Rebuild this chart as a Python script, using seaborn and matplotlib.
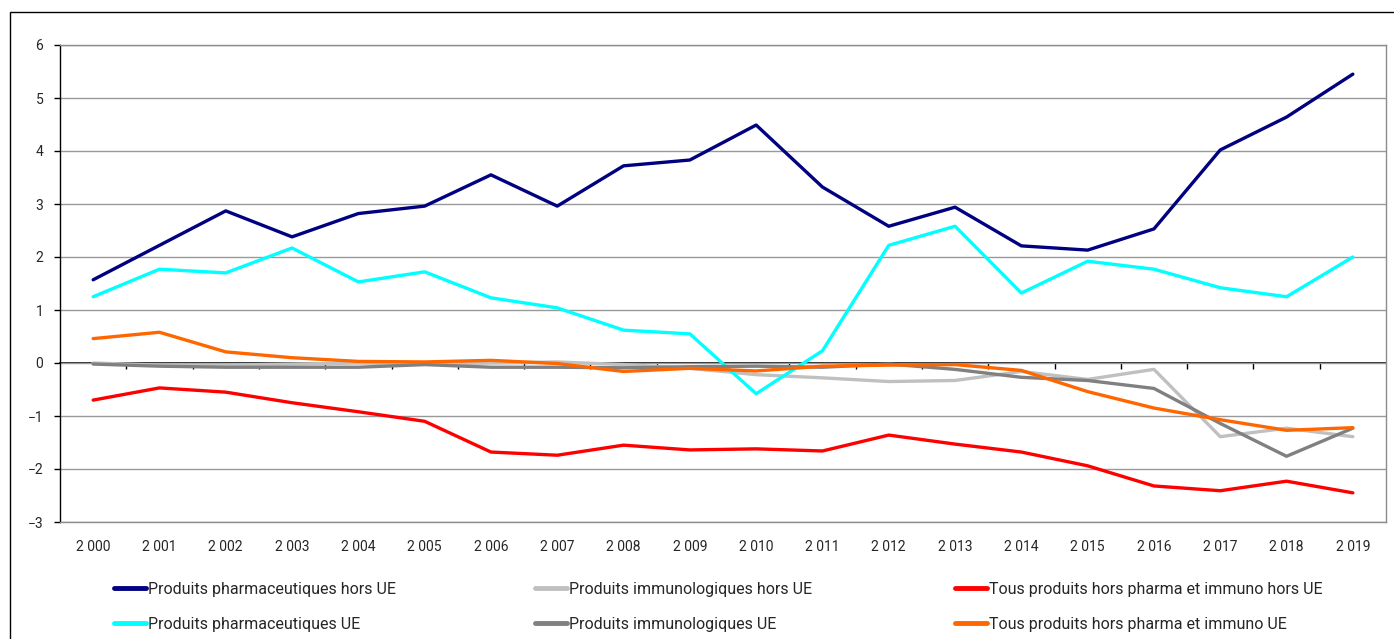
import seaborn as sns
import matplotlib.pyplot as plt
import matplotlib.patches as mpatches
import pandas as pd

years = [str(y) for y in range(2000, 2020)]
year_labels = ['2 000', '2 001', '2 002', '2 003', '2 004', '2 005', '2 006', '2 007', '2 008', '2 009',
               '2 010', '2 011', '2 012', '2 013', '2 014', '2 015', '2 016', '2 017', '2 018', '2 019']

pharma_hors_ue = [1.57, 2.22, 2.87, 2.38, 2.82, 2.96, 3.55, 2.96, 3.72, 3.83,
                  4.49, 3.32, 2.58, 2.94, 2.21, 2.13, 2.53, 4.02, 4.64, 5.45]
pharma_ue = [1.25, 1.77, 1.70, 2.17, 1.53, 1.72, 1.23, 1.04, 0.62, 0.55,
             -0.58, 0.23, 2.22, 2.58, 1.32, 1.92, 1.77, 1.42, 1.25, 2.00]
immuno_hors_ue = [0.00, -0.04, -0.04, -0.02, 0.00, -0.02, 0.00, 0.02, -0.03, -0.10,
                  -0.22, -0.28, -0.35, -0.33, -0.16, -0.31, -0.12, -1.39, -1.23, -1.39]
immuno_ue = [-0.02, -0.06, -0.08, -0.08, -0.08, -0.03, -0.08, -0.08, -0.09, -0.07,
             -0.06, -0.08, -0.02, -0.12, -0.27, -0.33, -0.48, -1.14, -1.76, -1.23]
tous_hors_ue = [-0.70, -0.47, -0.55, -0.75, -0.92, -1.10, -1.68, -1.74, -1.55, -1.64,
                -1.62, -1.66, -1.36, -1.53, -1.68, -1.94, -2.32, -2.41, -2.23, -2.45]
tous_ue = [0.46, 0.58, 0.21, 0.10, 0.03, 0.02, 0.05, -0.01, -0.16, -0.10,
           -0.15, -0.06, -0.04, -0.03, -0.14, -0.54, -0.85, -1.07, -1.27, -1.22]

series = {
    'Produits pharmaceutiques hors UE': pharma_hors_ue,
    'Produits immunologiques hors UE': immuno_hors_ue,
    'Tous produits hors pharma et immuno hors UE': tous_hors_ue,
    'Produits pharmaceutiques UE': pharma_ue,
    'Produits immunologiques UE': immuno_ue,
    'Tous produits hors pharma et immuno UE': tous_ue,
}
colors = ['#000080', '#C0C0C0', '#FF0000', '#00FFFF', '#808080', '#FF6600']
names = list(series.keys())

df = pd.concat([pd.DataFrame({'annee': years, 'valeur': v, 'serie': k}) for k, v in series.items()])
df['x'] = df['annee'].map({y: i for i, y in enumerate(years)})

sns.set_style('white')
plt.rcParams['font.family'] = ['Roboto', 'DejaVu Sans']

fig = plt.figure(figsize=(13.94, 6.39), dpi=100)
ax = fig.add_axes([60 / 1394, 1 - 522 / 639, 1326 / 1394, 477 / 639])

sns.lineplot(data=df, x='x', y='valeur', hue='serie', hue_order=names, palette=colors,
             linewidth=2.4, ax=ax, legend=False, sort=False)

ax.set_xlim(-0.5, len(years) - 0.5)
ax.set_ylim(-3, 6)
ax.set_yticks(range(-3, 7))
ax.set_xticks(range(len(years)))
ax.set_xticklabels(year_labels)
ax.set_xlabel('')
ax.set_ylabel('')
ax.tick_params(axis='x', length=0, pad=13, labelsize=10)
ax.tick_params(axis='y', left=True, length=4, width=1, color='black', pad=8, labelsize=10)
ax.yaxis.grid(True, color='#999999', linewidth=1)
ax.set_axisbelow(True)
for side in ['top', 'right', 'bottom']:
    ax.spines[side].set_color('#8c8c8c')
    ax.spines[side].set_linewidth(1)
ax.spines['left'].set_color('black')
ax.spines['left'].set_linewidth(1)

# axe horizontal a zero avec graduations entre categories
zero_ax = ax.secondary_xaxis((0 - (-3)) / 9)
zero_ax.set_xticks([i + 0.5 for i in range(len(years) - 1)])
zero_ax.set_xticklabels([])
zero_ax.tick_params(length=4, width=1, color='black', direction='out')
zero_ax.spines['bottom'].set_color('black')
zero_ax.spines['bottom'].set_linewidth(1.2)

# legendes en 3 colonnes
legend_font = ['Liberation Sans Narrow', 'Roboto', 'DejaVu Sans']
col_x = [114 / 1394, 535 / 1394, 955 / 1394]
for c in range(3):
    handles = [plt.Line2D([], [], color=colors[c], linewidth=3.5),
               plt.Line2D([], [], color=colors[c + 3], linewidth=3.5)]
    leg = fig.legend(handles, [names[c], names[c + 3]], loc='upper left',
                     bbox_to_anchor=(col_x[c], 1 - 582 / 639), frameon=False,
                     handlelength=2.0, handletextpad=0.15, labelspacing=1.25,
                     borderaxespad=0, borderpad=0,
                     prop={'family': legend_font, 'size': 11.5})

fig.patches.append(mpatches.Rectangle((10 / 1394, -0.05), 1.2, 1 - 12 / 639 + 0.05,
                                      transform=fig.transFigure, fill=False,
                                      edgecolor='black', linewidth=1))

fig.savefig('out.png', dpi=100)
